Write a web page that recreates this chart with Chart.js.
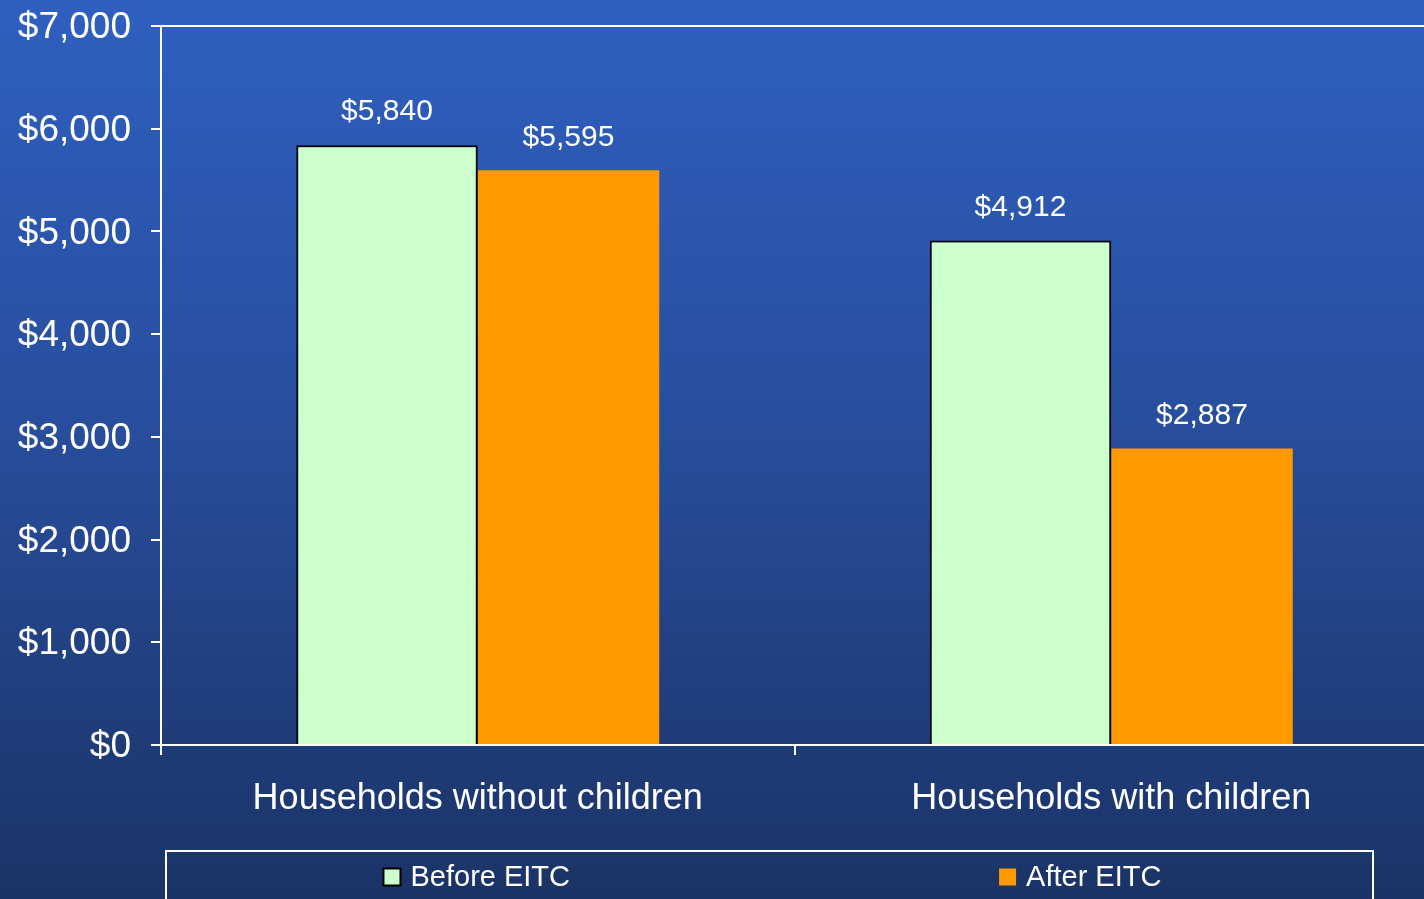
<!DOCTYPE html>
<html>
<head>
<meta charset="utf-8">
<script src="https://cdn.jsdelivr.net/npm/chart.js@4/dist/chart.umd.min.js"></script>
<style>
  html, body { margin: 0; padding: 0; overflow: hidden; }
  body {
    width: 1424px; height: 899px;
    background: linear-gradient(to bottom, #2f5fc0 0%, #284f9f 45%, #1b3366 100%);
  }
  #wrap { position: absolute; left: 0; top: 0; width: 1428px; height: 899px; }
</style>
</head>
<body>
<div id="wrap"><canvas id="chart" width="1428" height="899"></canvas></div>
<script>
// Average household tax liability, before and after the EITC
const categories = ['Households without children', 'Households with children'];
const beforeEITC = [5840, 4912];
const afterEITC = [5595, 2887];
const seriesNames = ['Before EITC', 'After EITC'];
const yTicks = [0, 1000, 2000, 3000, 4000, 5000, 6000, 7000];

const FONT = "'Liberation Sans', Arial, sans-serif";
const WHITE = '#ffffff';
const money = v => '$' + Number(v).toLocaleString('en-US');

// Value labels above each bar
const valueLabels = {
  id: 'valueLabels',
  afterDatasetsDraw(chart) {
    const ctx = chart.ctx;
    ctx.save();
    ctx.fillStyle = WHITE;
    ctx.font = '30px ' + FONT;
    ctx.textAlign = 'center';
    ctx.textBaseline = 'middle';
    chart.data.datasets.forEach((ds, di) => {
      chart.getDatasetMeta(di).data.forEach((bar, i) => {
        ctx.fillText(money(ds.data[i]), bar.x, bar.y - 33);
      });
    });
    ctx.restore();
  }
};

// Boxed legend along the bottom edge
const boxedLegend = {
  id: 'boxedLegend',
  afterDraw(chart) {
    const ctx = chart.ctx;
    const box = { left: 166, top: 851, width: 1207, height: 70 };
    ctx.save();
    ctx.strokeStyle = WHITE;
    ctx.lineWidth = 2;
    ctx.strokeRect(box.left, box.top, box.width, box.height);
    ctx.font = '29px ' + FONT;
    ctx.textBaseline = 'middle';
    ctx.textAlign = 'left';
    const n = chart.data.datasets.length;
    const cy = 877;
    const sw = 17;
    chart.data.datasets.forEach((ds, i) => {
      const tw = ctx.measureText(ds.label).width;
      const itemW = sw + 10 + tw;
      const cx = box.left + box.width * (i + 0.5) / n + 9;
      const x0 = cx - itemW / 2;
      ctx.fillStyle = ds.backgroundColor;
      ctx.fillRect(x0, cy - sw / 2, sw, sw);
      if (ds.borderWidth) {
        ctx.strokeStyle = '#000000';
        ctx.lineWidth = 2;
        ctx.strokeRect(x0, cy - sw / 2, sw, sw);
      }
      ctx.fillStyle = WHITE;
      ctx.fillText(ds.label, x0 + sw + 10, cy + 1);
    });
    ctx.restore();
  }
};

new Chart(document.getElementById('chart'), {
  type: 'bar',
  data: {
    labels: categories,
    datasets: [
      {
        label: seriesNames[0],
        data: beforeEITC,
        backgroundColor: '#ccffcc',
        borderColor: '#000000',
        borderWidth: 2,
        borderSkipped: 'bottom'
      },
      {
        label: seriesNames[1],
        data: afterEITC,
        backgroundColor: '#ff9900',
        borderWidth: 0
      }
    ]
  },
  options: {
    responsive: false,
    devicePixelRatio: 1,
    animation: false,
    categoryPercentage: 0.573,
    barPercentage: 1.0,
    layout: { padding: { top: 26, right: 0, bottom: 0, left: 0 } },
    plugins: {
      legend: { display: false },
      tooltip: { enabled: false }
    },
    scales: {
      x: {
        afterFit(scale) { scale.height = 154; scale.paddingLeft = 0; scale.paddingRight = 0; },
        grid: {
          offset: true,
          drawOnChartArea: false,
          color: WHITE,
          tickColor: WHITE,
          tickLength: 10,
          lineWidth: 2
        },
        border: { display: true, color: WHITE, width: 2 },
        ticks: {
          color: WHITE,
          font: { family: FONT, size: 36 },
          padding: 22,
          maxRotation: 0
        }
      },
      y: {
        min: yTicks[0],
        max: yTicks[yTicks.length - 1],
        afterFit(scale) { scale.width = 161; scale.paddingTop = 0; scale.paddingBottom = 0; },
        afterBuildTicks(scale) { scale.ticks = yTicks.map(v => ({ value: v })); },
        grid: {
          drawOnChartArea: true,
          color: c => (c.tick && c.tick.value === yTicks[yTicks.length - 1]) ? WHITE : 'rgba(0,0,0,0)',
          tickColor: WHITE,
          tickLength: 10,
          lineWidth: 2
        },
        border: { display: true, color: WHITE, width: 2 },
        ticks: {
          color: WHITE,
          font: { family: FONT, size: 37 },
          padding: 20,
          labelOffset: 2,
          callback: v => money(v)
        }
      }
    }
  },
  plugins: [valueLabels, boxedLegend]
});
</script>
</body>
</html>
